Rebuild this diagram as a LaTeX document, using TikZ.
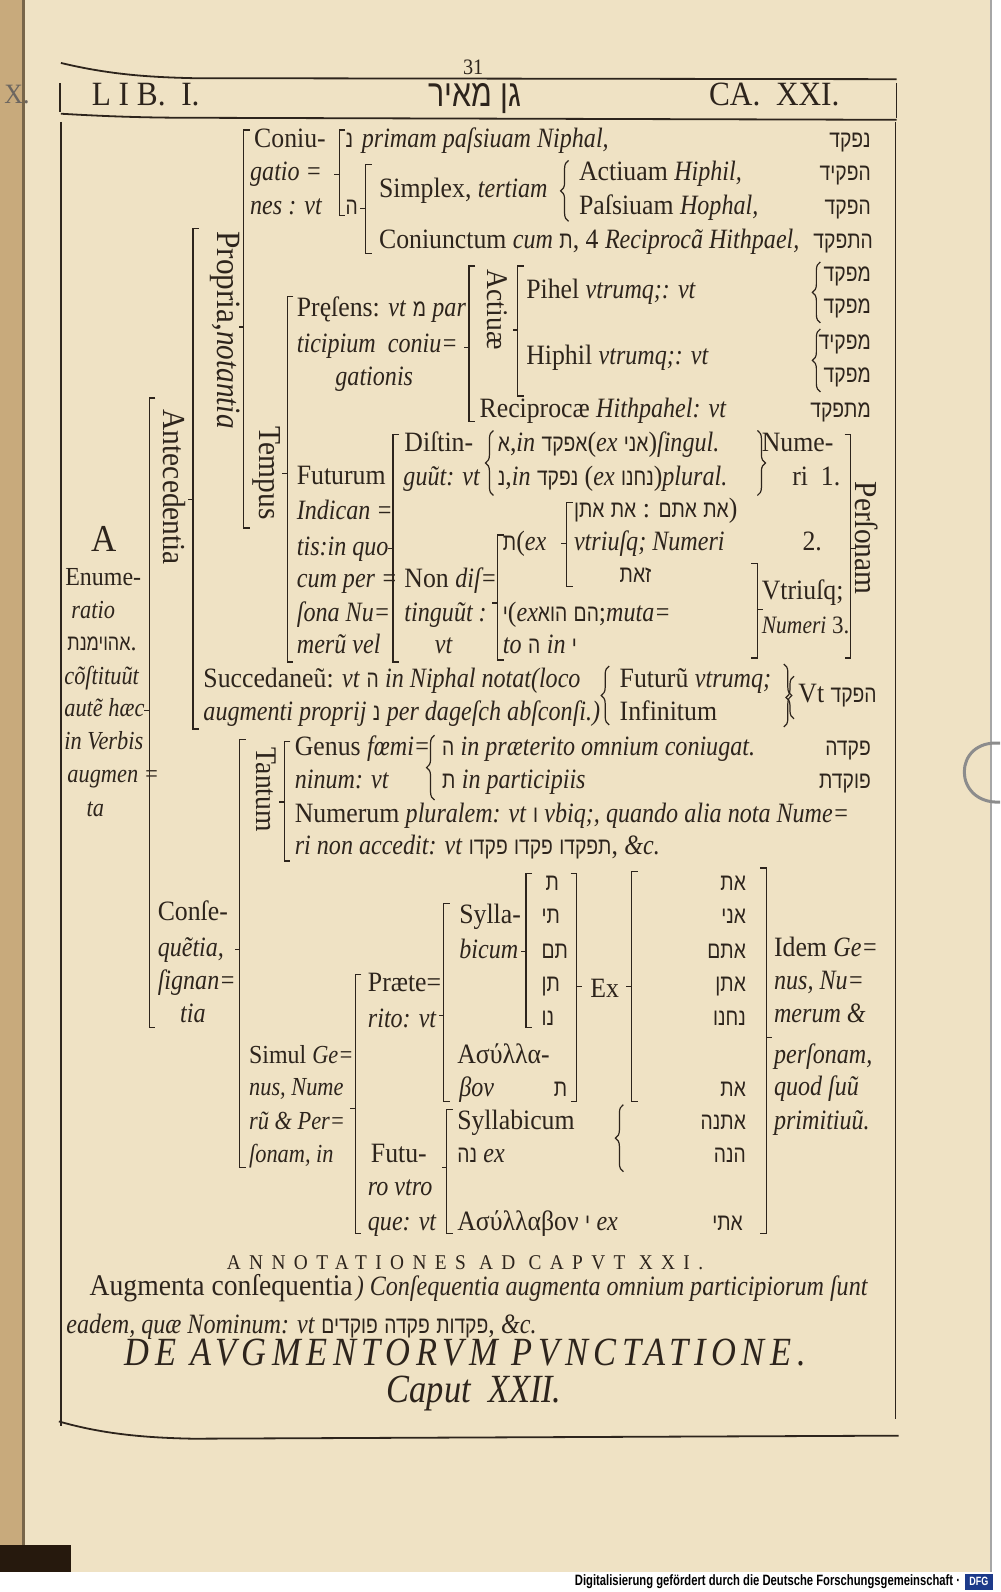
\documentclass[tikz,border=0pt]{standalone}
\usepackage{fontspec}
\setmainfont{Liberation Serif}[FakeStretch=0.92, ItalicFeatures={FakeStretch=0.86}]
\newfontfamily\hebfont{Liberation Sans}[Script=Hebrew, Scale=0.86, FakeStretch=0.8]
\newfontfamily\footfont{Liberation Sans}[FakeStretch=0.75]
\usetikzlibrary{decorations.pathreplacing}
\TeXXeTstate=1
\definecolor{ink}{RGB}{45,36,28}
\definecolor{paper}{RGB}{239,226,196}
\definecolor{leaf}{RGB}{200,170,124}
\definecolor{dfgblue}{RGB}{28,58,138}
\newcommand{\heb}[1]{{\hebfont\beginR #1\endR}}
% square brackets: x, top, bottom (and tick)
\newcommand{\sqL}[3]{\draw[brk] (#1+6,#2) -- (#1,#2) -- (#1,#3) -- (#1+6,#3);}
\newcommand{\sqLt}[4]{\sqL{#1}{#2}{#3}\draw[brk] (#1,#4) -- (#1-5,#4);}
\newcommand{\sqR}[3]{\draw[brk] (#1-6,#2) -- (#1,#2) -- (#1,#3) -- (#1-6,#3);}
\newcommand{\sqRt}[4]{\sqR{#1}{#2}{#3}\draw[brk] (#1,#4) -- (#1+5,#4);}
% curly braces
\newcommand{\brL}[3]{\draw[brc] (#1,#3) -- (#1,#2);}
\newcommand{\brR}[3]{\draw[brc] (#1,#2) -- (#1,#3);}

\begin{document}
\begin{tikzpicture}[%
    ,x=0.5076pt,y=-0.5076pt
    ,brk/.style = {draw=ink, line width=0.6pt}
    ,brc/.style = {draw=ink, line width=0.6pt, decorate, decoration={brace, amplitude=4pt}}
    ,rule/.style = {draw=ink, line width=0.9pt}
    ,tx/.style = {%
        ,anchor=base west, inner sep=0pt, text=ink
        ,font=\fontsize{14}{16}\selectfont
        }
    ,sm/.style = {tx, font=\fontsize{13}{15}\selectfont}
    ,hr/.style = {tx, anchor=base east}
    ,rot/.style = {%
        ,anchor=center, inner sep=0pt, text=ink, rotate=-90
        ,font=\fontsize{16}{18}\selectfont
        }
    ]
\useasboundingbox (0,0) rectangle (985,1568);

% page and scan
\fill[white] (0,0) rectangle (985,1568);
\fill[paper] (22,0) rectangle (976,1548);
\fill[leaf] (0,0) rectangle (22,1548);
\draw[leaf!60!black, line width=1.5pt] (23,0) -- (23,1548);
\fill[black!80!brown] (0,1522) rectangle (70,1548);
\draw[black!35, line width=1pt] (976,0) -- (976,1548);
\draw[black!45, line width=1.5pt] (985,732) .. controls (938,728) and (938,792) .. (985,790);
\node[tx, text=ink!70] (prev) at (4,102) {X.};

% header
\node[tx, anchor=center, font=\fontsize{11}{12}\selectfont] (pg) at (466,66) {31};
\draw[rule] (60,62) .. controls (110,74) and (150,76) .. (190,77) -- (883,78);
\draw[rule] (60,112) .. controls (110,115) and (150,116) .. (190,116) -- (883,118);
\draw[rule] (59,82) -- (59,110);
\draw[rule] (883,82) -- (883,116);
\node[tx, font=\fontsize{17}{19}\selectfont] (lib) at (90,104) {L I B.\ \ I.};
\node[tx, anchor=center, font=\fontsize{22}{24}\selectfont] (gm) at (468,97) {\heb{גן מאיר}};
\node[tx, font=\fontsize{17}{19}\selectfont] (ca) at (698,104) {CA.\ \ XXI.};

% frame
\draw[rule] (60,120) -- (60,1404);
\draw[rule] (882,120) -- (882,1398);
\draw[rule] (58,1400) .. controls (100,1412) and (140,1416) .. (190,1417) -- (885,1414);

% A Enumeratio
\node[tx, font=\fontsize{19}{21}\selectfont] (a) at (90,543) {A};
\node[sm] (en1) at (64,577) {Enume-};
\node[sm] (en2) at (70,609) {\textit{ratio}};
\node[sm] (en3) at (66,641) {\heb{אהוימנת}.};
\node[sm] (en4) at (63,674) {\textit{cõſtituũt}};
\node[sm] (en5) at (63,706) {\textit{autẽ hæc}};
\node[sm] (en6) at (63,738) {\textit{in Verbis}};
\node[sm] (en7) at (66,771) {\textit{augmen =}};
\node[sm] (en8) at (85,804) {\textit{ta}};
\sqLt{147}{392}{1012}{700}

% Antecedentia
\node[rot] (ant) at (172,480) {Antecedentia};
\sqLt{190}{225}{718}{492}
\node[rot, font=\fontsize{17}{19}\selectfont] (prop) at (222,325) {Propria,\textit{notantia}};
\sqLt{240}{128}{520}{322}

% Coniugationes
\node[tx] (cj1) at (250,145) {Coniu-};
\node[tx] (cj2) at (246,178) {\textit{gatio =}};
\node[tx] (cj3) at (246,211) {\textit{nes : vt}};
\sqLt{334}{128}{212}{172}
\node[tx] (nun) at (340,145) {\heb{נ}};
\node[tx] (prim) at (356,145) {\textit{primam paſsiuam Niphal,}};
\node[tx] (he) at (340,211) {\heb{ה}};
\sqLt{360}{162}{250}{205}
\node[tx] (simp) at (373,195) {Simplex, \textit{tertiam}};
\brL{560}{158}{218}
\node[tx] (act) at (570,178) {Actiuam \textit{Hiphil,}};
\node[tx] (pas) at (570,211) {Paſsiuam \textit{Hophal,}};
\node[tx] (conj) at (373,245) {Coniunctum \textit{cum} \heb{ת}, 4 \textit{Reciprocã Hithpael,}};
\node[hr] (h1) at (858,145) {\heb{נפקד}};
\node[hr] (h2) at (858,178) {\heb{הפקיד}};
\node[hr] (h3) at (858,211) {\heb{הפקד}};
\node[hr] (h4) at (860,245) {\heb{התפקד}};

% Tempus
\node[rot] (tmp) at (263,466) {Tempus};
\sqLt{283}{292}{652}{466}
\node[tx] (prs1) at (292,312) {Pręſens: \textit{vt} \heb{מ} \textit{par}};
\node[tx] (prs2) at (292,347) {\textit{ticipium\ \ coniu=}};
\node[tx] (prs3) at (330,380) {\textit{gationis}};
\sqLt{462}{262}{415}{342}
\node[rot, font=\fontsize{15}{17}\selectfont] (actv) at (490,305) {Actiuæ};
\sqLt{510}{262}{390}{325}
\node[tx] (pih) at (518,294) {Pihel \textit{vtrumq;: vt}};
\node[tx] (hip) at (518,359) {Hiphil \textit{vtrumq;: vt}};
\node[tx] (rec) at (472,411) {Reciprocæ \textit{Hithpahel: vt}};
\brL{808}{258}{318}
\brL{808}{324}{386}
\node[hr] (m1) at (858,277) {\heb{מפקד}};
\node[hr] (m2) at (858,309) {\heb{מפקד}};
\node[hr] (m3) at (858,344) {\heb{מפקיד}};
\node[hr] (m4) at (858,377) {\heb{מפקד}};
\node[hr] (m5) at (858,411) {\heb{מתפקד}};

% Futurum
\node[tx] (fut1) at (292,477) {Futurum};
\node[tx] (fut2) at (292,512) {\textit{Indican =}};
\node[tx] (fut3) at (292,547) {\textit{tis:in quo}};
\node[tx] (fut4) at (292,579) {\textit{cum per =}};
\node[tx] (fut5) at (292,612) {\textit{ſona Nu=}};
\node[tx] (fut6) at (292,644) {\textit{merũ vel}};
\sqLt{387}{428}{652}{540}
\node[tx] (dis1) at (398,445) {Diſtin-};
\node[tx] (dis2) at (397,478) {\textit{guũt: vt}};
\brL{486}{424}{488}
\node[tx] (sg) at (490,445) {\heb{א},\textit{in} \heb{אפקד}(\textit{ex} \heb{אני})\textit{ſingul.}};
\node[tx] (pl) at (490,478) {\heb{נ},\textit{in} \heb{נפקד} (\textit{ex} \heb{נחנו})\textit{plural.}};
\brR{746}{424}{488}
\node[tx] (nm1) at (750,445) {Nume-};
\node[tx] (nm2) at (780,478) {ri\ \ 1.};
\sqRt{838}{428}{648}{540}
\node[rot] (pers) at (854,530) {Perſonam};
\node[tx] (nd1) at (398,579) {Non \textit{diſ=}};
\node[tx] (nd2) at (398,612) {\textit{tinguũt :}};
\node[tx] (nd3) at (428,644) {\textit{vt}};
\sqLt{490}{527}{650}{594}
\node[tx] (t2) at (495,542) {\heb{ת}(\textit{ex}};
\sqLt{558}{495}{578}{535}
\node[tx] (pl2) at (565,510) {\heb{אתן} \heb{את} : \heb{אתם} \heb{את})};
\node[tx] (vn) at (565,542) {\textit{vtriuſq; Numeri}};
\node[tx] (n2) at (790,542) {2.};
\node[tx] (zt) at (610,574) {\heb{זאת}};
\node[tx] (y3) at (495,612) {\heb{י}(\textit{ex}\heb{הוא} \heb{הם};\textit{muta=}};
\node[tx] (y4) at (495,644) {\textit{to} \heb{ה} \textit{in} \heb{י}};
\sqRt{746}{555}{648}{600}
\node[tx] (vt3a) at (750,590) {Vtriuſq;};
\node[tx, font=\fontsize{12.5}{14}\selectfont] (vt3b) at (750,624) {\textit{Numeri} 3.};

% Succedaneum
\node[tx] (suc1) at (200,677) {Succedaneũ: \textit{vt} \heb{ה} \textit{in Niphal notat(loco}};
\node[tx] (suc2) at (200,710) {\textit{augmenti proprij} \heb{נ} \textit{per dageſch abſconſi.)}};
\brL{600}{656}{714}
\node[tx] (fi1) at (610,677) {Futurũ \textit{vtrumq;}};
\node[tx] (fi2) at (610,710) {Infinitum};
\brR{772}{654}{716}
\brL{782}{666}{708}
\node[tx] (vt) at (786,692) {Vt \heb{הפקד}};

% Consequentia
\node[tx] (cs1) at (155,907) {Conſe-};
\node[tx] (cs2) at (155,942) {\textit{quẽtia,}};
\node[tx] (cs3) at (155,975) {\textit{ſignan=}};
\node[tx] (cs4) at (177,1007) {\textit{tia}};
\sqLt{236}{728}{1150}{935}

% Tantum
\node[rot, font=\fontsize{15}{17}\selectfont] (tnt) at (262,778) {Tantum};
\sqLt{280}{730}{848}{790}
\node[tx] (gen1) at (290,744) {Genus \textit{fœmi=}};
\node[tx] (gen2) at (290,777) {\textit{ninum: vt}};
\brL{428}{724}{788}
\node[tx] (pr1) at (435,744) {\heb{ה} \textit{in præterito omnium coniugat.}};
\node[tx] (pr2) at (435,777) {\heb{ת} \textit{in participiis}};
\node[hr] (fh1) at (858,744) {\heb{פקדה}};
\node[hr] (fh2) at (858,777) {\heb{פוקדת}};
\node[tx] (num1) at (290,810) {Numerum \textit{pluralem: vt} \heb{ו} \textit{vbiq;, quando alia nota Nume=}};
\node[tx] (num2) at (290,842) {\textit{ri non accedit: vt} \heb{פקדו} \heb{פקדו} \heb{תפקדו}, \textit{\&c.}};

% Simul
\node[sm] (sim1) at (245,1047) {Simul \textit{Ge=}};
\node[sm] (sim2) at (245,1079) {\textit{nus, Nume}};
\node[sm] (sim3) at (245,1112) {\textit{rũ \& Per=}};
\node[sm] (sim4) at (245,1145) {\textit{ſonam, in}};
\sqLt{350}{960}{1215}{1092}
\node[tx] (pt1) at (362,977) {Præte=};
\node[tx] (pt2) at (362,1012) {\textit{rito: vt}};
\sqLt{437}{890}{1085}{1000}
\node[tx] (sy1) at (452,910) {Sylla-};
\node[tx] (sy2) at (452,944) {\textit{bicum}};
\sqLt{518}{860}{1012}{937}
\node[tx] (s1) at (537,877) {\heb{ת}};
\node[tx] (s2) at (533,910) {\heb{תי}};
\node[tx] (s3) at (533,944) {\heb{תם}};
\node[tx] (s4) at (533,977) {\heb{תן}};
\node[tx] (s5) at (533,1010) {\heb{נו}};
\sqRt{568}{860}{1085}{972}
\node[tx] (ex) at (581,982) {Ex};
\sqLt{622}{858}{1085}{972}
\node[hr] (e1) at (735,877) {\heb{את}};
\node[hr] (e2) at (735,910) {\heb{אני}};
\node[hr] (e3) at (735,944) {\heb{אתם}};
\node[hr] (e4) at (735,977) {\heb{אתן}};
\node[hr] (e5) at (735,1010) {\heb{נחנו}};
\node[hr] (e6) at (735,1080) {\heb{את}};
\node[tx] (as1) at (450,1047) {Ασύλλα-};
\node[tx] (as2) at (452,1080) {\textit{βον}};
\node[tx] (as3) at (545,1080) {\heb{ת}};
\sqRt{755}{855}{1215}{1022}
\node[tx] (id1) at (762,942) {Idem \textit{Ge=}};
\node[tx] (id2) at (762,975) {\textit{nus, Nu=}};
\node[tx] (id3) at (762,1007) {\textit{merum \&}};
\node[tx] (id4) at (762,1047) {\textit{perſonam,}};
\node[tx] (id5) at (762,1079) {\textit{quod ſuũ}};
\node[tx] (id6) at (762,1112) {\textit{primitiuũ.}};

% Futurum vtroque
\node[tx] (fu1) at (365,1145) {Futu-};
\node[tx] (fu2) at (362,1177) {\textit{ro vtro}};
\node[tx] (fu3) at (362,1212) {\textit{que: vt}};
\sqLt{440}{1093}{1215}{1150}
\node[tx] (sb1) at (450,1112) {Syllabicum};
\node[tx] (sb2) at (450,1145) {\heb{נה} \textit{ex}};
\brL{614}{1088}{1154}
\node[hr] (f1) at (735,1112) {\heb{אתנה}};
\node[hr] (f2) at (735,1145) {\heb{הנה}};
\node[tx] (as4) at (450,1212) {Ασύλλαβον \heb{י} \textit{ex}};
\node[hr] (f3) at (732,1212) {\heb{אתי}};

% annotationes
\node[tx, anchor=base, font=\fontsize{10.5}{12}\selectfont\addfontfeature{LetterSpace=40}] (ann) at (458,1250) {ANNOTATIONES AD CAPVT XXI.};
\node[tx, font=\fontsize{15}{17}\selectfont] (aug) at (88,1276) {Augmenta conſequentia};
\node[tx, font=\fontsize{14}{16}\selectfont] (aug2) at (350,1276) {\textit{) Conſequentia augmenta omnium participiorum ſunt}};
\node[tx] (ead) at (65,1313) {\textit{eadem, quæ Nominum: vt} \heb{פוקדים} \heb{פקדה} \heb{פקדות}, \textit{\&c.}};
\node[tx, anchor=base, font=\fontsize{20}{22}\selectfont\addfontfeature{LetterSpace=14}] (de) at (461,1345) {\textit{DE AVGMENTORVM PVNCTATIONE.}};
\node[tx, anchor=base, font=\fontsize{20}{22}\selectfont] (cap) at (467,1381) {\textit{Caput\ \ XXII.}};

% footer
\node[anchor=base east, inner sep=0pt, font=\footfont\bfseries\fontsize{7.5}{9}\selectfont] (dig) at (946,1562) {Digitalisierung gefördert durch die Deutsche Forschungsgemeinschaft ·};
\fill[dfgblue] (950,1550) rectangle (978,1566);
\node[anchor=center, inner sep=0pt, text=white, font=\footfont\bfseries\fontsize{6}{7}\selectfont] (dfg) at (964,1558) {DFG};
\end{tikzpicture}
\end{document}
